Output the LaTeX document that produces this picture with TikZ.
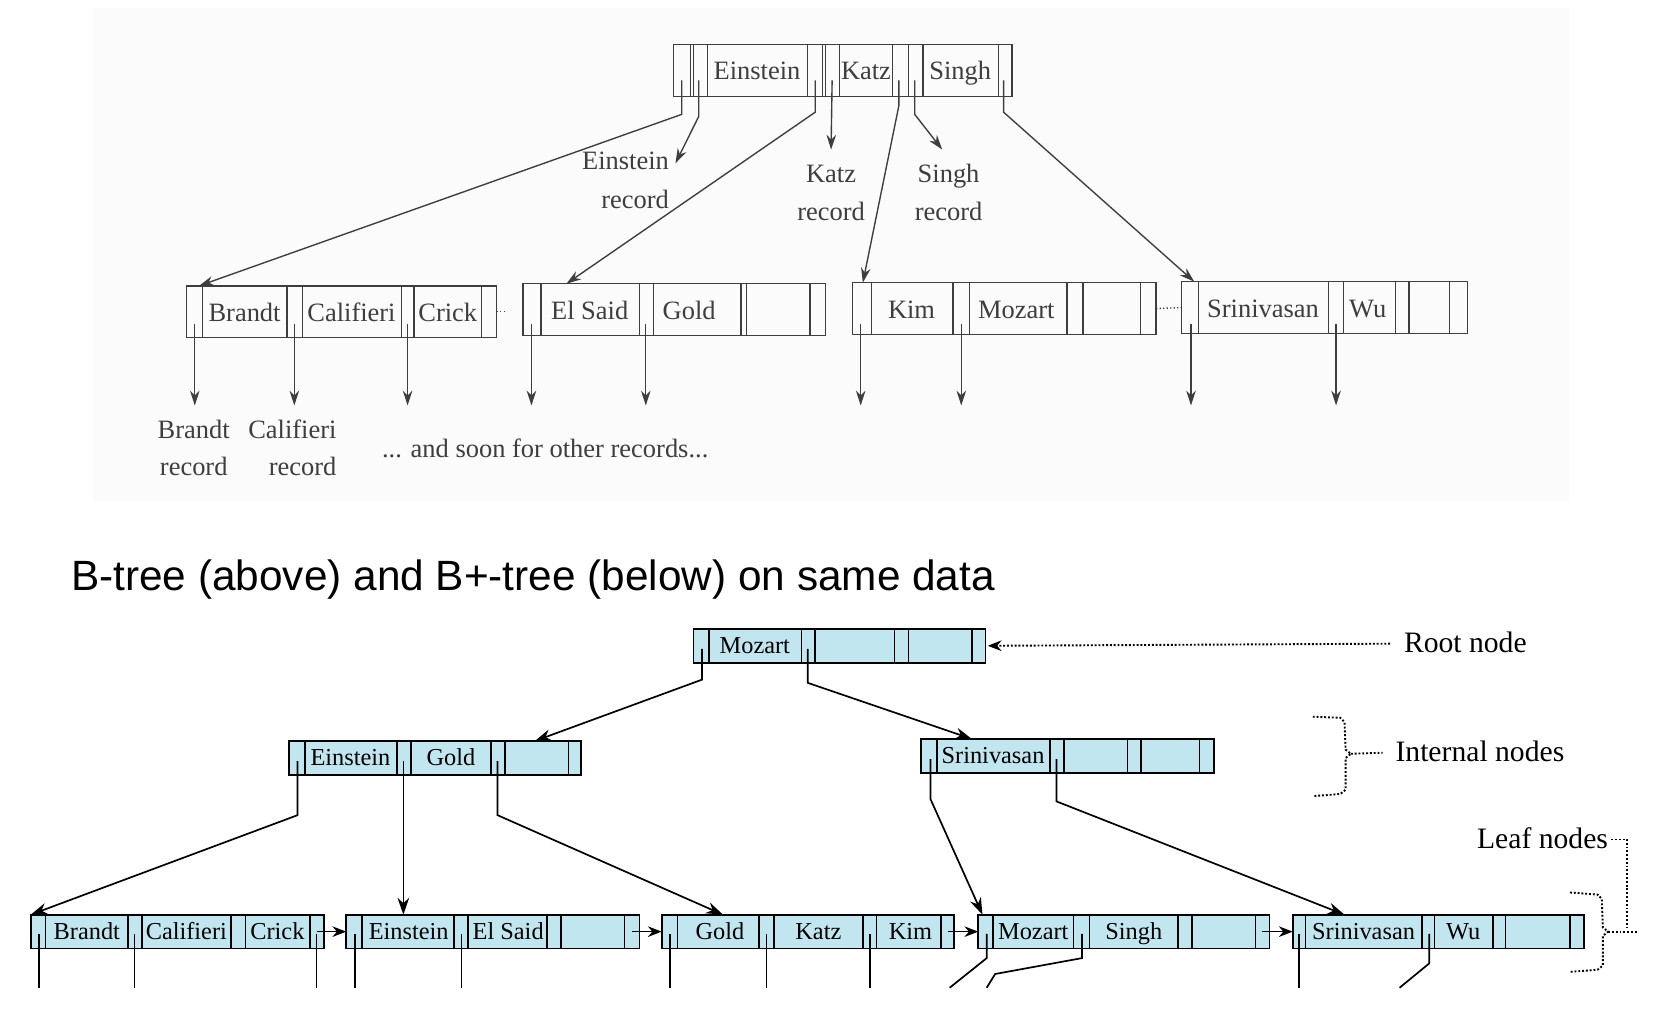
\documentclass[tikz,border=0pt]{standalone}
\usepackage{fontspec}
\setmainfont{Liberation Serif}
\newfontfamily\captionfont{Liberation Sans}
\usetikzlibrary{arrows.meta}
\definecolor{leafblue}{RGB}{194,230,240}
\definecolor{scangray}{RGB}{62,62,62}
\begin{document}
\begin{tikzpicture}[x=1pt,y=-1pt,
    oldbox/.style={draw=scangray, line width=1.3pt, anchor=north west, inner sep=0pt, outer sep=0pt},
    oldline/.style={draw=scangray, line width=1.3pt},
    oldtext/.style={text=scangray, font=\fontsize{25}{27}\selectfont, inner sep=0pt, text height=17pt, text depth=2pt},
    oldarrow/.style={oldline, -{Stealth[length=14pt,width=9pt]}},
    newbox/.style={draw, fill=leafblue, line width=1.6pt, anchor=north west, inner sep=0pt, outer sep=0pt, minimum height=32pt},
    newline/.style={line width=1.6pt},
    newtext/.style={font=\fontsize{23}{25}\selectfont, inner sep=0pt, text height=16pt, text depth=2pt},
    newarrow/.style={newline, -{Stealth[length=16pt,width=11pt]}},
    note/.style={font=\fontsize{28}{30}\selectfont, inner sep=0pt, text height=19pt, text depth=2pt},
    dotline/.style={line width=1.8pt, dash pattern=on 1.8pt off 1.8pt}
  ]
  \useasboundingbox (0,0) rectangle (1568,959);
  %% scanned background of the B-tree
  \fill[black!1.5] (88,8) rectangle (1482,474);

  %% B-tree root
  \node[oldbox, minimum width=320pt, minimum height=49pt] (broot) at (636,42) {};
  \foreach \x in {652,655,668,763,777,780,793,843,858,872,943}
    \draw[oldline] (\x,42) -- (\x,91);
  \node[oldtext] (broot-k1) at (715,68) {Einstein};
  \node[oldtext] (broot-k2) at (818,68) {Katz};
  \node[oldtext] (broot-k3) at (907,68) {Singh};
  \foreach \x/\n in {644/p1,660/r1,770/p2,786/r2,849/p3,864/r3,948/p4}
    \coordinate (broot-\n) at (\x,76);
  %% B-tree leaves
  \node[oldbox, minimum width=293pt, minimum height=49pt] (bleafA) at (176,270) {};
  \foreach \x in {191,271,286,379,391,455}
    \draw[oldline] (\x,270) -- (\x,319);
  \node[oldtext] (bleafA-k1) at (231,296) {Brandt};
  \node[oldtext] (bleafA-k2) at (332,296) {Califieri};
  \node[oldtext] (bleafA-k3) at (423,296) {Crick};
  \node[oldbox, minimum width=286pt, minimum height=49pt] (bleafB) at (494,268) {};
  \foreach \x in {511,604,617,700,705,765}
    \draw[oldline] (\x,268) -- (\x,317);
  \node[oldtext] (bleafB-k1) at (557,294) {El Said};
  \node[oldtext] (bleafB-k2) at (651,294) {Gold};
  \node[oldbox, minimum width=287pt, minimum height=49pt] (bleafC) at (805,267) {};
  \foreach \x in {823,900,916,1008,1023,1077}
    \draw[oldline] (\x,267) -- (\x,316);
  \node[oldtext] (bleafC-k1) at (861,293) {Kim};
  \node[oldtext] (bleafC-k2) at (960,293) {Mozart};
  \node[oldbox, minimum width=270pt, minimum height=49pt] (bleafD) at (1116,266) {};
  \foreach \x in {1132,1255,1269,1318,1331,1369}
    \draw[oldline] (\x,266) -- (\x,315);
  \node[oldtext] (bleafD-k1) at (1193,292) {Srinivasan};
  \node[oldtext] (bleafD-k2) at (1292,292) {Wu};
  \draw[oldline, dotted] (bleafA.east) -- ++(9,0);
  \draw[oldline, dotted] (bleafC.east) -- (bleafD.west);
  %% record labels
  \node[oldtext, anchor=east] (einrec-1) at (632,153) {Einstein};
  \node[oldtext, anchor=east] (einrec-2) at (632,189) {record};
  \node[oldtext] (katzrec-1) at (785,165) {Katz};
  \node[oldtext] (katzrec-2) at (785,201) {record};
  \node[oldtext] (singhrec-1) at (896,165) {Singh};
  \node[oldtext] (singhrec-2) at (896,201) {record};
  \node[oldtext] (brandtrec-1) at (183,407) {Brandt};
  \node[oldtext] (brandtrec-2) at (183,442) {record};
  \node[oldtext, anchor=east] (calrec-1) at (318,407) {Califieri};
  \node[oldtext, anchor=east] (calrec-2) at (318,442) {record};
  \node[oldtext] (others) at (515,425) {... and soon for other records...};
  %% B-tree pointers
  \draw[oldarrow] (broot-p1) -- ++(0,32) -- ([xshift=12pt]bleafA.north west);
  \draw[oldarrow] (broot-r1) -- ++(0,34) -- ([shift={(6pt,-11pt)}]einrec-1.north east);
  \draw[oldarrow] (broot-p2) -- ++(0,30) -- ([xshift=41pt]bleafB.north west);
  \draw[oldarrow] (broot-r2) -- ([yshift=14pt]katzrec-1.north);
  \draw[oldarrow] (broot-p3) -- ++(0,24) -- ([xshift=10pt]bleafC.north west);
  \draw[oldarrow] (broot-r3) -- ++(0,32) -- ([shift={(-6pt,14pt)}]singhrec-1.north);
  \draw[oldarrow] (broot-p4) -- ++(0,30) -- ([xshift=12pt]bleafD.north west);
  \foreach \x [count=\i] in {184,278,385,502,610,813,908,1125,1262} {
    \coordinate (brec\i) at (\x,306);
    \draw[oldarrow] (brec\i) -- ++(0,77);
  }

  %% caption
  \node[font=\captionfont\fontsize{40}{44}\selectfont, anchor=west, inner sep=0pt] (caption) at (67,547) {B-tree (above) and B+-tree (below) on same data};

  %% B+-tree root
  \node[newbox, minimum width=276pt] (proot) at (655,594) {};
  \foreach \x in {670,757,770,845,858,918}
    \draw[newline] (\x,594) -- (\x,626);
  \node[newtext] (proot-k1) at (713,610) {Mozart};
  \coordinate (proot-p1) at (663,613);
  \coordinate (proot-p2) at (763,613);
  %% internal nodes
  \node[newbox, minimum width=276pt] (pin1) at (273,700) {};
  \foreach \x in {288,375,388,464,477,537}
    \draw[newline] (\x,700) -- (\x,732);
  \node[newtext] (pin1-k1) at (331,716) {Einstein};
  \node[newtext] (pin1-k2) at (426,716) {Gold};
  \foreach \x [count=\i] in {281,381,470}
    \coordinate (pin1-p\i) at (\x,719);
  \node[newbox, minimum width=277pt] (pin2) at (870,698) {};
  \foreach \x in {885,992,1005,1065,1078,1133}
    \draw[newline] (\x,698) -- (\x,730);
  \node[newtext] (pin2-k1) at (938,714) {Srinivasan};
  \foreach \x [count=\i] in {879,998}
    \coordinate (pin2-p\i) at (\x,717);
  %% leaf nodes
  \node[newbox, minimum width=277pt] (pleaf1) at (29,864) {};
  \foreach \x in {43,121,134,218,232,293}
    \draw[newline] (\x,864) -- (\x,896);
  \node[newtext] (pleaf1-k1) at (82,880) {Brandt};
  \node[newtext] (pleaf1-k2) at (176,880) {Califieri};
  \node[newtext] (pleaf1-k3) at (262,880) {Crick};
  \node[newbox, minimum width=277pt] (pleaf2) at (327,864) {};
  \foreach \x in {342,429,442,517,530,590}
    \draw[newline] (\x,864) -- (\x,896);
  \node[newtext] (pleaf2-k1) at (386,880) {Einstein};
  \node[newtext] (pleaf2-k2) at (480,880) {El Said};
  \node[newbox, minimum width=276pt] (pleaf3) at (625,864) {};
  \foreach \x in {640,717,731,815,828,889}
    \draw[newline] (\x,864) -- (\x,896);
  \node[newtext] (pleaf3-k1) at (680,880) {Gold};
  \node[newtext] (pleaf3-k2) at (773,880) {Katz};
  \node[newtext] (pleaf3-k3) at (860,880) {Kim};
  \node[newbox, minimum width=275pt] (pleaf4) at (924,864) {};
  \foreach \x in {938,1014,1029,1113,1126,1186}
    \draw[newline] (\x,864) -- (\x,896);
  \node[newtext] (pleaf4-k1) at (976,880) {Mozart};
  \node[newtext] (pleaf4-k2) at (1071,880) {Singh};
  \node[newbox, minimum width=275pt] (pleaf5) at (1221,864) {};
  \foreach \x in {1233,1343,1355,1410,1422,1483}
    \draw[newline] (\x,864) -- (\x,896);
  \node[newtext] (pleaf5-k1) at (1288,880) {Srinivasan};
  \node[newtext] (pleaf5-k2) at (1382,880) {Wu};
  %% tree pointers
  \draw[newarrow] (proot-p1) -- ++(0,29) -- ([xshift=232pt]pin1.north west);
  \draw[newarrow] (proot-p2) -- ++(0,32) -- ([xshift=48pt]pin2.north west);
  \draw[newarrow] (pin1-p1) -- ++(0,51) -- (pleaf1.north west);
  \draw[newarrow] (pin1-p2) -- (pin1-p2 |- pleaf2.north);
  \draw[newarrow] (pin1-p3) -- ++(0,51) -- ([xshift=58pt]pleaf3.north west);
  \draw[newarrow] (pin2-p1) -- ++(0,38) -- ([xshift=4pt]pleaf4.north west);
  \draw[newarrow] (pin2-p2) -- ++(0,40) -- ([xshift=49pt]pleaf5.north west);
  %% next-leaf pointers
  \foreach \x/\a/\b in {299/pleaf1/pleaf2,597/pleaf2/pleaf3,895/pleaf3/pleaf4,1192/pleaf4/pleaf5} {
    \coordinate (\a-nx) at (\x,880);
    \draw[newline, -{Stealth[length=13pt,width=10pt]}] (\a-nx) -- (\b.west);
  }
  %% record pointers (cut off)
  \foreach \x in {37,127,299,335,436,633,724,822,1227}
    \draw[newline] (\x,882) -- (\x,933);
  \draw[newline] (932,882) -- (932,905) -- (897,933);
  \draw[newline] (1022,882) -- (1022,905) -- (940,920) -- (932,933);
  \draw[newline] (1350,882) -- (1350,910) -- (1322,933);

  %% annotations
  \node[note, anchor=west] (rootlabel) at (1326,608) {Root node};
  \draw[dotline, -{Stealth[length=13pt,width=10pt]}] ([xshift=-13pt]rootlabel.west) -- ([xshift=2pt]proot.east);
  \node[note, anchor=west] (internallabel) at (1318,711) {Internal nodes};
  \draw[dotline] (1240,677) -- (1266,678) -- (1270,682) -- (1271,708) -- (1276,712)
    -- (1271,716) -- (1271,746) -- (1266,750) -- (1240,752);
  \draw[dotline] (1276,712) -- ([xshift=-12pt]internallabel.west);
  \node[note, anchor=east] (leaflabel) at (1519,793) {Leaf nodes};
  \draw[dotline] (1483,843) -- (1509,845) -- (1513,849) -- (1514,876) -- (1519,880)
    -- (1514,884) -- (1514,912) -- (1509,916) -- (1483,918);
  \draw[dotline] (1519,880) -- (1547,880);
  \draw[dotline] ([xshift=3pt]leaflabel.east) -- ++(15,0) -- (1537,876);
\end{tikzpicture}
\end{document}
